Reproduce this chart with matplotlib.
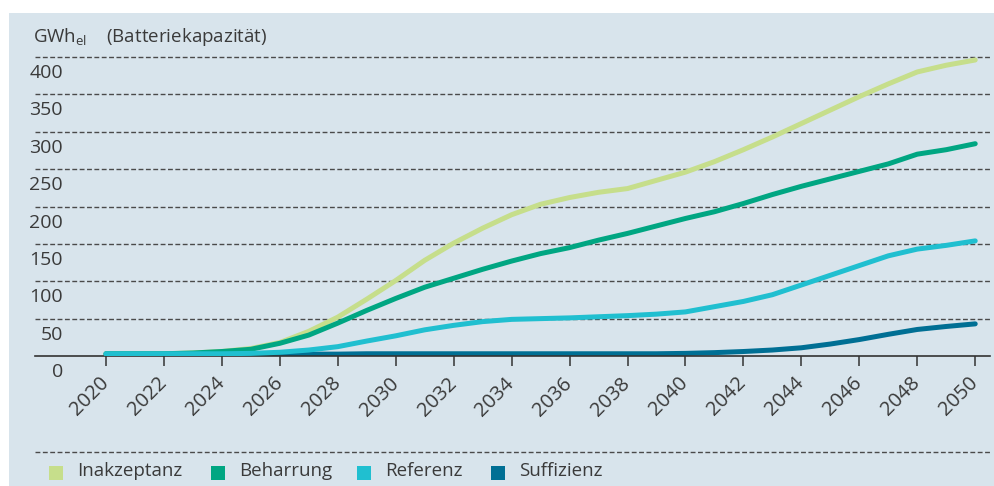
import matplotlib
matplotlib.use("Agg")
import matplotlib.pyplot as plt
import matplotlib.transforms as mtransforms
from matplotlib.patches import Rectangle
from matplotlib.lines import Line2D

plt.rcParams['font.family'] = ['Open Sans', 'DejaVu Sans']
plt.rcParams['mathtext.default'] = 'regular'

years = list(range(2020, 2051))

inakzeptanz = [3, 3, 3, 4, 6, 10, 18, 33, 52, 76, 101, 128, 151, 171, 189, 203,
               212, 219, 224, 235, 246, 260, 276, 293, 311, 329, 347, 364, 380, 389, 396]
beharrung = [3, 3, 3, 4, 6, 9, 17, 28, 44, 61, 77, 92, 104, 116, 127, 137,
             145, 155, 164, 174, 184, 193, 204, 216, 227, 237, 247, 257, 270, 276, 284]
referenz = [3, 3, 3, 3, 3, 3.5, 5, 8, 12.5, 20, 27, 35, 41, 46, 49, 50,
            51, 52.5, 54, 56, 59, 66, 73, 82, 95, 108, 121, 134, 143, 148, 154]
suffizienz = [2.5, 2.5, 2.5, 2.5, 2.5, 2.5, 2.5, 2.5, 2.5, 3, 3, 3, 3, 3, 3, 3,
              3, 3, 3, 3, 3.5, 4.5, 6, 8, 11, 16, 22, 29, 35.5, 39.5, 43]

series = [("Inakzeptanz", inakzeptanz, "#c6de8b"),
          ("Beharrung", beharrung, "#00a682"),
          ("Referenz", referenz, "#20bfd0"),
          ("Suffizienz", suffizienz, "#006f94")]

y_ticks = [0, 50, 100, 150, 200, 250, 300, 350, 400]
x_ticks = list(range(2020, 2051, 2))

W, H = 994, 486
fig = plt.figure(figsize=(W / 100, H / 100), dpi=100)
fig.patch.set_facecolor("white")

bg = "#d8e4ec"
fig.patches.append(Rectangle((9 / W, 0), 1 - 9 / W, (H - 13) / H,
                             transform=fig.transFigure, facecolor=bg,
                             edgecolor="none", zorder=-5))

ax = fig.add_axes([35 / W, (H - 356) / H, (990 - 35) / W, (356 - 57) / H])
ax.set_zorder(2)
ax.set_facecolor("none")
ax.set_xlim(2017.55, 2050.51)
ax.set_ylim(0, 400)

for s in ["top", "right", "left"]:
    ax.spines[s].set_visible(False)
ax.spines["bottom"].set_color("#333333")
ax.spines["bottom"].set_linewidth(1.2)

grid_col = "#4a4a4a"
for v in y_ticks[1:]:
    ax.axhline(v, color=grid_col, lw=1.0, ls=(0, (3.5, 1.8)), clip_on=False, zorder=1)

# Suffizienz liegt am Anfang unter den anderen
zs = {"Inakzeptanz": 3, "Beharrung": 4, "Referenz": 5, "Suffizienz": 2}
for name, vals, col in series:
    ax.plot(years, vals, color=col, lw=3.6, solid_capstyle="round",
            solid_joinstyle="round", zorder=zs[name])

fs = 13.5
ax.set_yticks([])
txt_col = "#3a3a3a"
lab_tr = mtransforms.blended_transform_factory(ax.transAxes, ax.transData) + \
    mtransforms.ScaledTranslation(0, -16 / 100, fig.dpi_scale_trans)
for v in y_ticks:
    ax.text((63 - 35) / (990 - 35), v, str(v), transform=lab_tr, ha="right",
            va="center", fontsize=14, color=txt_col)

ax.set_xticks(x_ticks)
ax.set_xticklabels([str(x) for x in x_ticks], rotation=45, ha="right",
                   va="top", fontsize=14.5, color=txt_col)
ax.tick_params(axis="x", length=7.5, width=1.1, color="#333333", pad=5)
offset = mtransforms.ScaledTranslation(7 / 100, 0, fig.dpi_scale_trans)
for lab in ax.get_xticklabels():
    lab.set_transform(lab.get_transform() + offset)

fig.text(33 / W, 1 - 37 / H, r"GWh$_{el}$    (Batteriekapazität)", fontsize=fs,
         color=txt_col, ha="left", va="center")

# Legende
fig.lines.append(Line2D([35 / W, 990 / W], [1 - 452 / H, 1 - 452 / H],
                        transform=fig.transFigure, color=grid_col, lw=1.0,
                        ls=(0, (3.5, 1.8))))
leg_x = [49, 211, 357, 491]
for (name, vals, col), x0 in zip(series, leg_x):
    fig.patches.append(Rectangle((x0 / W, 1 - 480 / H), 14 / W, 14 / H,
                                 transform=fig.transFigure, facecolor=col,
                                 edgecolor="none"))
    fig.text((x0 + 28) / W, 1 - 471 / H, name, fontsize=fs, color=txt_col,
             ha="left", va="center")

fig.savefig("out.png", dpi=100, facecolor=fig.get_facecolor())
